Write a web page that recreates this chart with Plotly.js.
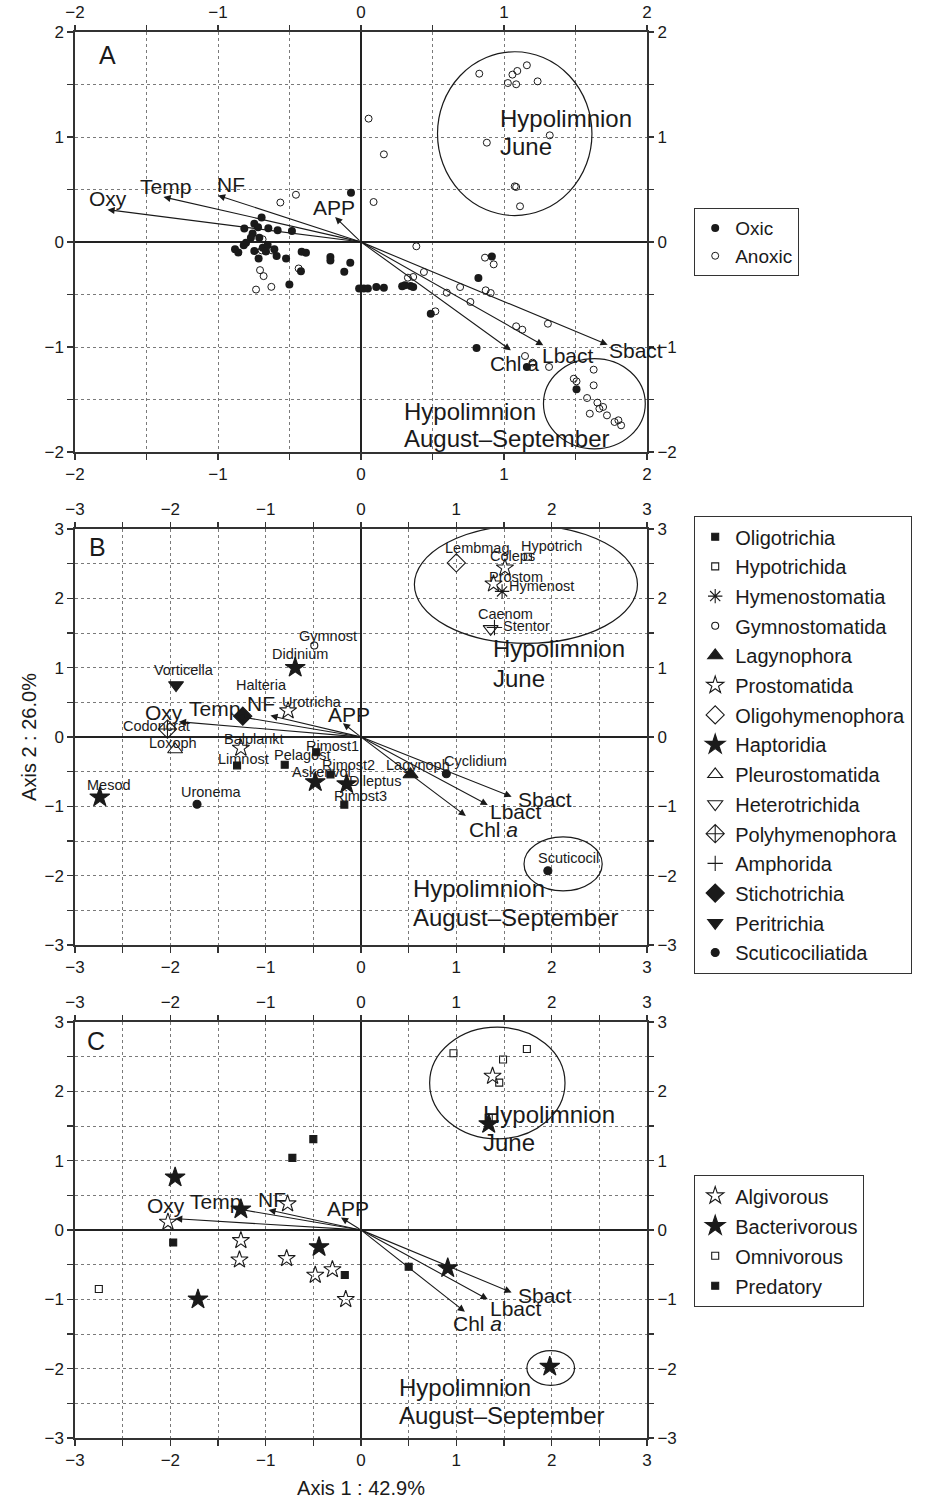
<!DOCTYPE html>
<html><head><meta charset="utf-8">
<script src="https://cdn.plot.ly/plotly-3.0.1.min.js"></script>
<style>html,body{margin:0;padding:0;background:#fff}</style>
</head><body>
<div id="chart" style="width:928px;height:1501px"></div>
<script>
// ---------------- DATA ----------------
// Panel A : samples
const oxicX = [-0.07,-0.695,-0.746,-0.72,-0.816,-0.648,-0.583,-0.483,-0.758,-0.77,-0.711,-0.804,-0.82,-0.881,-0.858,-0.746,-0.687,-0.653,-0.606,-0.59,-0.716,-0.665,-0.524,-0.415,-0.385,-0.214,-0.214,-0.42,-0.117,-0.075,-0.501,-0.013,0.019,0.048,0.107,0.16,0.288,0.307,0.347,0.365,0.488,0.915,0.821,0.808,1.16,1.507];
const oxicY = [0.47,0.233,0.175,0.14,0.128,0.131,0.112,0.105,0.08,0.04,0.041,-0.006,-0.03,-0.07,-0.10,-0.086,-0.055,-0.029,-0.07,-0.134,-0.156,-0.09,-0.156,-0.093,-0.102,-0.143,-0.175,-0.278,-0.284,-0.198,-0.405,-0.444,-0.444,-0.444,-0.429,-0.435,-0.422,-0.413,-0.419,-0.429,-0.683,-0.137,-0.343,-1.01,-1.19,-1.403];
const anoxicX = [0.827,1.027,1.059,1.093,1.085,1.16,1.235,1.32,0.88,1.075,1.085,1.112,0.053,0.16,0.088,-0.455,-0.564,-0.688,-0.695,-0.622,-0.706,-0.681,-0.734,-0.627,-0.436,0.387,0.44,0.328,0.365,0.60,0.693,0.765,0.52,0.867,0.928,0.872,0.907,1.085,1.128,1.307,1.147,1.2,1.315,1.627,1.488,1.507,1.627,1.581,1.653,1.667,1.693,1.6,1.72,1.773,1.8,1.819];
const anoxicY = [1.603,1.514,1.594,1.629,1.502,1.683,1.53,1.016,0.946,0.53,0.524,0.34,1.175,0.835,0.381,0.45,0.376,0.026,-0.08,-0.08,-0.268,-0.325,-0.453,-0.427,-0.252,-0.041,-0.286,-0.34,-0.333,-0.483,-0.429,-0.571,-0.66,-0.149,-0.213,-0.46,-0.486,-0.803,-0.835,-0.778,-1.086,-1.149,-1.19,-1.216,-1.302,-1.327,-1.365,-1.486,-1.53,-1.587,-1.571,-1.635,-1.651,-1.714,-1.698,-1.746];

// Environmental vectors (tips)
const envNames = ['Oxy','Temp','NF','APP','Chl a','Lbact','Sbact'];
const envAX = [-1.773,-1.381,-1.0,-0.181,1.048,1.275,1.725];
const envAY = [0.308,0.429,0.444,0.238,-1.032,-0.984,-0.978];
const envBX = [-1.91,-1.30,-0.95,-0.19,1.10,1.33,1.58];
const envBY = [0.22,0.30,0.31,0.20,-1.14,-0.98,-0.86];
const envCX = [-1.95,-1.325,-0.97,-0.21,1.09,1.33,1.58];
const envCY = [0.163,0.31,0.29,0.18,-1.18,-1.0,-0.90];

// Panel B : taxa by taxonomic group
const taxGroups = ['Oligotrichia','Hypotrichida','Hymenostomatia','Gymnostomatida','Lagynophora','Prostomatida','Oligohymenophora','Haptoridia','Pleurostomatida','Heterotrichida','Polyhymenophora','Amphorida','Stichotrichia','Peritrichia','Scuticociliatida'];
const taxNames = [
  ['Limnost','Pelagost','Rimost1','Rimost2','Rimost3'],
  ['Hypotrich'],
  ['Hymenost'],
  ['Gymnost'],
  ['Lagynoph'],
  ['Urotricha','Balplankt','Coleps','Prostom'],
  ['Lembmag'],
  ['Didinium','Mesod','Askenvol','Dileptus'],
  ['Loxoph'],
  ['Stentor'],
  ['Codoncrat'],
  ['Caenom'],
  ['Halteria'],
  ['Vorticella'],
  ['Uronema','Cyclidium','Scuticocil']
];
const taxX = [
  [-1.30,-0.80,-0.47,-0.32,-0.175],
  [1.75],
  [1.48],
  [-0.49],
  [0.52],
  [-0.765,-1.26,1.51,1.39],
  [1.0],
  [-0.69,-2.74,-0.48,-0.15],
  [-1.95],
  [1.36],
  [-2.03],
  [1.40],
  [-1.24],
  [-1.94],
  [-1.72,0.895,1.96]
];
const taxY = [
  [-0.41,-0.40,-0.22,-0.54,-0.975],
  [2.6],
  [2.10],
  [1.32],
  [-0.54],
  [0.38,-0.16,2.44,2.21],
  [2.51],
  [1.0,-0.87,-0.65,-0.68],
  [-0.18],
  [1.56],
  [0.115],
  [1.58],
  [0.30],
  [0.75],
  [-0.97,-0.53,-1.93]
];

// Panel C : feeding types
const feedGroups = ['Algivorous','Bacterivorous','Omnivorous','Predatory'];
const feedX = [
  [-2.025,-1.26,-1.275,-0.78,-0.48,-0.30,-0.16,-0.77,1.38],
  [-1.95,-1.26,-0.44,-1.71,0.91,1.34,1.98],
  [-2.75,0.97,1.49,1.74,1.45,1.34],
  [-0.50,-0.72,-1.97,0.50,-0.17]
];
const feedY = [
  [0.115,-0.15,-0.43,-0.41,-0.65,-0.57,-1.0,0.38,2.22],
  [0.76,0.30,-0.245,-1.0,-0.55,1.53,-1.97],
  [-0.85,2.55,2.46,2.61,2.125,1.62],
  [1.31,1.04,-0.18,-0.53,-0.65]
];

// ---------------- STYLE / LAYOUT ----------------
const FONT = 'Liberation Sans, Arial, Helvetica, sans-serif';
const INK = '#1a1a1a';
const W = 928, H = 1501;
const xDom = [75/W, 647/W];
const yDoms = [[1-452/H, 1-32/H], [1-945/H, 1-529/H], [1-1438/H, 1-1022/H]];
const ranges = [[-2,2],[-3,3],[-3,3]];

const taxStyle = [
  {symbol:'square', size:7},
  {symbol:'square-open', size:7},
  {symbol:'asterisk-open', size:12},
  {symbol:'circle-open', size:7},
  {symbol:'triangle-up', size:13},
  {symbol:'star-open', size:13},
  {symbol:'diamond-open', size:14},
  {symbol:'star', size:15},
  {symbol:'triangle-up-open', size:13},
  {symbol:'triangle-down-open', size:13},
  {symbol:'diamond-cross-open', size:14},
  {symbol:'cross-thin-open', size:11},
  {symbol:'diamond', size:14},
  {symbol:'triangle-down', size:13},
  {symbol:'circle', size:8}
];
const feedStyle = [
  {symbol:'star-open', size:13},
  {symbol:'star', size:15},
  {symbol:'square-open', size:7},
  {symbol:'square', size:7}
];

const traces = [];
const layout = {
  width: W, height: H,
  margin: {l:0, r:0, t:0, b:0},
  paper_bgcolor: '#fff', plot_bgcolor: '#fff',
  font: {family: FONT, color: INK, size: 17},
  showlegend: true,
  annotations: [], shapes: []
};

function axIds(p) {
  const b = 2*p + 1;
  const n = (k) => (k === 1 ? '' : String(k));
  return {x: 'x'+n(b), y: 'y'+n(b), x2: 'x'+(b+1), y2: 'y'+(b+1),
          xk: 'xaxis'+n(b), yk: 'yaxis'+n(b), x2k: 'xaxis'+(b+1), y2k: 'yaxis'+(b+1)};
}
function baseAxis(range) {
  return {
    range: range, autorange: false, fixedrange: true,
    tick0: 0, dtick: 1, ticks: 'outside', ticklen: 6, tickwidth: 1.2, tickcolor: '#333',
    tickfont: {size: 17, family: FONT, color: INK},
    showgrid: true, gridcolor: '#7a7a7a', griddash: 'dot', gridwidth: 1,
    zeroline: true, zerolinecolor: '#222', zerolinewidth: 1.4,
    showline: true, linecolor: '#333', linewidth: 1.7, mirror: true,
    minor: {dtick: 0.5, tick0: 0, ticks: 'outside', ticklen: 6, tickcolor: '#333', tickwidth: 1.2,
            showgrid: true, gridcolor: '#7a7a7a', griddash: 'dot', gridwidth: 1}
  };
}
function overlayAxis(range) {
  return {
    range: range, autorange: false, fixedrange: true,
    tick0: 0, dtick: 1, ticks: 'outside', ticklen: 6, tickwidth: 1.2, tickcolor: '#333',
    tickfont: {size: 17, family: FONT, color: INK},
    showgrid: false, zeroline: false, showline: false,
    minor: {dtick: 0.5, tick0: 0, ticks: 'outside', ticklen: 6, tickcolor: '#333', tickwidth: 1.2, showgrid: false}
  };
}
for (let p = 0; p < 3; p++) {
  const a = axIds(p);
  layout[a.xk] = Object.assign(baseAxis(ranges[p]), {domain: xDom, anchor: a.y});
  layout[a.yk] = Object.assign(baseAxis(ranges[p]), {domain: yDoms[p], anchor: a.x});
  layout[a.x2k] = Object.assign(overlayAxis(ranges[p]), {overlaying: a.x, side: 'top', anchor: a.y});
  layout[a.y2k] = Object.assign(overlayAxis(ranges[p]), {overlaying: a.y, side: 'right', anchor: a.x});
  traces.push({type: 'scatter', mode: 'markers', x: [], y: [], xaxis: a.x2, yaxis: a.y2, showlegend: false, hoverinfo: 'skip'});
}
layout.yaxis3.title = {text: 'Axis 2 : 26.0%', font: {size: 20, family: FONT, color: INK}, standoff: 2};
layout.xaxis5.title = {text: 'Axis 1 : 42.9%', font: {size: 20, family: FONT, color: INK}, standoff: 12};

// ----- Panel A traces
const A = axIds(0), B = axIds(1), C = axIds(2);
traces.push({type:'scatter', mode:'markers', name:'Oxic', x: oxicX, y: oxicY, xaxis: A.x, yaxis: A.y,
  marker:{symbol:'circle', size:8, color:INK}, legend:'legend', cliponaxis:false});
traces.push({type:'scatter', mode:'markers', name:'Anoxic', x: anoxicX, y: anoxicY, xaxis: A.x, yaxis: A.y,
  marker:{symbol:'circle-open', size:7, color:INK, line:{width:1, color:INK}}, legend:'legend', cliponaxis:false});

// ----- Panel B traces
taxGroups.forEach((g, i) => {
  const st = taxStyle[i];
  traces.push({type:'scatter', mode:'markers', name:g, x: taxX[i], y: taxY[i], text: taxNames[i],
    xaxis: B.x, yaxis: B.y, legend:'legend2', legendgroup:'t'+i, cliponaxis:false,
    marker:{symbol: st.symbol, size: st.size, color: INK, line:{width:1.1, color:INK}}});
});
// ----- Panel C traces
feedGroups.forEach((g, i) => {
  const st = feedStyle[i];
  traces.push({type:'scatter', mode:'markers', name:g, x: feedX[i], y: feedY[i],
    xaxis: C.x, yaxis: C.y, legend:'legend3', legendgroup:'f'+i, cliponaxis:false,
    marker:{symbol: st.symbol, size: st.size, color: INK, line:{width:1.1, color:INK}}});
});

// legends
const legBase = {bgcolor:'#fff', bordercolor:'#333', borderwidth:1.2, font:{size:20, family:FONT, color:INK},
  xanchor:'left', yanchor:'top', traceorder:'normal', itemwidth:30};
layout.legend  = Object.assign({}, legBase, {x: 694/W, y: 1-208/H, font:{size:19, family:FONT, color:INK}});
layout.legend2 = Object.assign({}, legBase, {x: 694/W, y: 1-516/H, traceorder:'grouped', tracegroupgap: 0.7});
layout.legend3 = Object.assign({}, legBase, {x: 694/W, y: 1-1175/H, traceorder:'grouped', tracegroupgap: 1});

// ----- Arrows and arrow labels
function addArrows(ax, tx, ty) {
  for (let i = 0; i < tx.length; i++) {
    layout.annotations.push({xref: ax.x, yref: ax.y, axref: ax.x, ayref: ax.y,
      x: tx[i], y: ty[i], ax: 0, ay: 0, showarrow: true, arrowhead: 2, arrowsize: 1.3,
      arrowwidth: 1.1, arrowcolor: INK, standoff: 0, startstandoff: 0, font: {size: 1}});
  }
}
addArrows(A, envAX, envAY);
addArrows(B, envBX, envBY);
addArrows(C, envCX, envCY);

// label placements (layout, not data)
const envLabelPosA = [[-1.77,0.41],[-1.37,0.53],[-0.91,0.55],[-0.19,0.33],[1.07,-1.16],[1.45,-1.08],[1.92,-1.03]];
const envLabelPosB = [[-2.07,0.35],[-1.54,0.41],[-1.05,0.48],[-0.13,0.32],[1.39,-1.33],[1.63,-1.08],[1.93,-0.90]];
const envLabelPosC = [[-2.05,0.35],[-1.53,0.41],[-0.93,0.44],[-0.14,0.31],[1.22,-1.35],[1.63,-1.13],[1.93,-0.94]];
function envLabel(ax, pos, italicA) {
  envNames.forEach((n, i) => {
    let t = n;
    if (italicA && n === 'Chl a') t = 'Chl <i>a</i>';
    layout.annotations.push({xref: ax.x, yref: ax.y, x: pos[i][0], y: pos[i][1], text: t, showarrow: false,
      font: {size: 21, family: FONT, color: INK}, xanchor: 'center', yanchor: 'middle'});
  });
}
envLabel(A, envLabelPosA, false);
envLabel(B, envLabelPosB, true);
envLabel(C, envLabelPosC, true);

// taxon labels in B (left edge, middle)
const taxLabelPos = {
  Limnost:[-1.52,-0.32], Pelagost:[-0.93,-0.255], Rimost1:[-0.60,-0.125], Rimost2:[-0.43,-0.41], Rimost3:[-0.30,-0.85],
  Hypotrich:[1.66,2.76], Hymenost:[1.53,2.18], Gymnost:[-0.67,1.45], Lagynoph:[0.24,-0.40],
  Urotricha:[-0.85,0.505], Balplankt:[-1.46,-0.03], Coleps:[1.33,2.61], Prostom:[1.32,2.31],
  Lembmag:[0.86,2.73], Didinium:[-0.95,1.19], Mesod:[-2.89,-0.69], Askenvol:[-0.74,-0.50], Dileptus:[-0.15,-0.63],
  Loxoph:[-2.24,-0.08], Stentor:[1.47,1.60], Codoncrat:[-2.52,0.16], Caenom:[1.21,1.78], Halteria:[-1.33,0.745],
  Vorticella:[-2.19,0.96], Uronema:[-1.91,-0.79], Cyclidium:[0.85,-0.34], Scuticocil:[1.84,-1.75]
};
taxNames.forEach(arr => arr.forEach(n => {
  const p = taxLabelPos[n];
  layout.annotations.push({xref: B.x, yref: B.y, x: p[0], y: p[1], text: n, showarrow: false,
    font: {size: 14.5, family: FONT, color: INK}, xanchor: 'left', yanchor: 'middle'});
}));

// Hypolimnion texts (one annotation per line)
function hypo(ax, x, y1, y2, t1, t2) {
  [[y1,t1],[y2,t2]].forEach(d => {
    layout.annotations.push({xref: ax.x, yref: ax.y, x: x, y: d[0], text: d[1], showarrow: false, align: 'left',
      font: {size: 24, family: FONT, color: INK}, xanchor: 'left', yanchor: 'middle'});
  });
}
hypo(A, 0.96, 1.18, 0.905, 'Hypolimnion', 'June');
hypo(A, 0.29, -1.61, -1.876, 'Hypolimnion', 'August\u2013September');
hypo(B, 1.36, 1.27, 0.85, 'Hypolimnion', 'June');
hypo(B, 0.52, -2.18, -2.61, 'Hypolimnion', 'August\u2013September');
hypo(C, 1.26, 1.66, 1.255, 'Hypolimnion', 'June');
hypo(C, 0.38, -2.27, -2.67, 'Hypolimnion', 'August\u2013September');

// panel letters
[[A,-1.77,1.78,'A'],[B,-2.76,2.74,'B'],[C,-2.78,2.73,'C']].forEach(d => {
  layout.annotations.push({xref: d[0].x, yref: d[0].y, x: d[1], y: d[2], text: d[3], showarrow: false,
    font: {size: 25, family: FONT, color: INK}, xanchor: 'center', yanchor: 'middle'});
});

// ellipses
function ell(ax, cx, cy, rx, ry) {
  layout.shapes.push({type: 'circle', xref: ax.x, yref: ax.y, x0: cx-rx, x1: cx+rx, y0: cy-ry, y1: cy+ry,
    line: {color: INK, width: 1.2}, fillcolor: 'rgba(0,0,0,0)', layer: 'above'});
}
ell(A, 1.075, 1.032, 0.54, 0.78);
ell(A, 1.632, -1.54, 0.356, 0.43);
ell(B, 1.73, 2.20, 1.17, 0.85);
ell(B, 2.12, -1.83, 0.41, 0.39);
ell(C, 1.43, 2.12, 0.71, 0.805);
ell(C, 1.99, -1.99, 0.25, 0.25);

Plotly.newPlot('chart', traces, layout, {staticPlot: true, displayModeBar: false});
</script>
</body></html>
